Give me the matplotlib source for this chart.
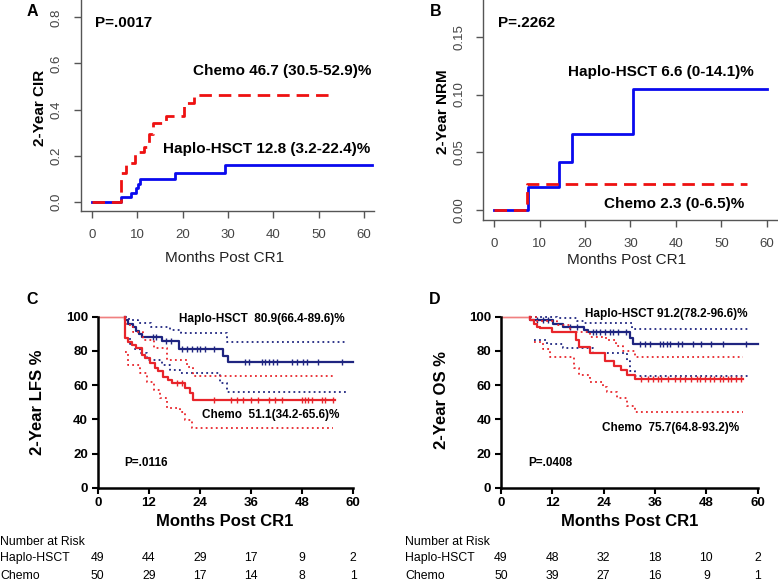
import numpy as np
import matplotlib
matplotlib.use("Agg")
import matplotlib.pyplot as plt
from matplotlib.transforms import blended_transform_factory

plt.rcParams["font.family"] = ["Liberation Sans", "DejaVu Sans"]

W, H = 778, 581

# === DATOS ===
# A: incidencia acumulada de recaida (CIR)
cir_haplo_t = [0, 6.3, 8.7, 9.7, 10.1, 10.6, 18.4, 29.3]
cir_haplo_v = [0, 0.020, 0.040, 0.059, 0.078, 0.099, 0.127, 0.161]
cir_haplo_end = 61.7
cir_chemo_t = [0, 6.5, 7.5, 9.5, 11.5, 12.5, 13.5, 16.3, 20.3, 22.4]
cir_chemo_v = [0, 0.124, 0.167, 0.217, 0.239, 0.296, 0.342, 0.371, 0.429, 0.463]
cir_chemo_end = 53.6

# B: mortalidad sin recaida (NRM)
nrm_haplo_t = [0, 7.5, 14.3, 17.2, 30.5]
nrm_haplo_v = [0, 0.020, 0.042, 0.066, 0.105]
nrm_haplo_end = 60
nrm_chemo_t = [0, 7.1]
nrm_chemo_v = [0, 0.023]
nrm_chemo_end = 55.7

# C: LFS
lfs_haplo_t = [0, 6.3, 7.0, 8.2, 9.0, 9.8, 10.5, 15.0, 19.0, 29.5, 30.6]
lfs_haplo_v = [100, 97.9, 95.9, 93.8, 91.7, 89.6, 88.0, 86.0, 81.0, 77.0, 73.5]
lfs_haplo_end = 60
lfs_haplo_cens = [13.0, 13.8, 16.1, 17.3, 19.7, 20.9, 22.1, 23.2, 24.0, 25.2, 27.2,
                  34.6, 35.4, 38.5, 39.3, 40.1, 41.2, 42.0, 45.5, 46.7, 48.3, 49.1, 51.8, 57.3]
lfs_haplo_up_t = [6.3, 7.3, 9.5, 12.5, 17.0, 19.5, 30.4]
lfs_haplo_up_v = [100, 98.1, 96.1, 94.2, 92.0, 90.3, 85.0]
lfs_haplo_lo_t = [6.3, 7.5, 8.5, 9.9, 11.5, 15.0, 17.0, 19.3, 28.7, 30.3]
lfs_haplo_lo_v = [87.5, 84.0, 81.0, 78.6, 74.7, 72.0, 69.0, 66.9, 61.0, 55.8]
lfs_haplo_ci_end = 58.5

lfs_chemo_t = [0, 6.4, 7.2, 8.0, 9.1, 10.3, 11.1, 12.3, 13.5, 14.2, 15.4, 16.6, 17.4, 20.5, 21.7, 22.3]
lfs_chemo_v = [100, 87.3, 85.4, 83.5, 81.5, 77.6, 75.7, 72.8, 70.0, 68.0, 65.0, 63.1, 61.2, 58.2, 55.3, 51.4]
lfs_chemo_end = 55.7
lfs_chemo_cens = [18.5, 19.7, 27.2, 31.4, 32.6, 34.2, 36.1, 37.7, 40.1, 41.6, 43.2,
                  47.9, 48.7, 49.4, 50.2, 52.6, 53.4, 55.3]
lfs_chemo_up_t = [6.3, 6.8, 8.4, 10.7, 13.1, 16.2, 20.9, 22.4]
lfs_chemo_up_v = [96.0, 95.1, 91.2, 86.4, 81.5, 74.7, 70.8, 65.6]
lfs_chemo_lo_t = [6.4, 7.2, 9.9, 11.5, 13.1, 14.6, 16.2, 19.3, 20.5, 22.1]
lfs_chemo_lo_v = [79.5, 71.7, 66.9, 62.0, 57.1, 52.2, 46.4, 44.4, 39.6, 34.7]
lfs_chemo_ci_end = 55.3

# D: OS
os_haplo_t = [0, 6.8, 12.2, 14.6, 19.3, 20.4, 30.2, 30.9]
os_haplo_v = [100, 98.0, 96.0, 93.9, 92.0, 91.2, 87.5, 83.8]
os_haplo_end = 60
os_haplo_cens = [8.3, 9.9, 11.1, 16.1, 17.7, 21.5, 22.3, 23.1, 24.2, 25.4, 26.2, 27.4, 29.3,
                 32.4, 33.6, 34.8, 37.1, 37.9, 38.7, 39.4, 41.4, 42.2, 44.9, 46.8, 49.2, 51.9, 57.3]
os_haplo_up_t = [6.8, 13.0, 17.7, 19.3, 30.6]
os_haplo_up_v = [100, 99.0, 97.5, 96.5, 92.6]
os_haplo_lo_t = [7.6, 10.7, 14.6, 21.6, 29.4, 30.2, 31.3]
os_haplo_lo_v = [86.4, 84.0, 81.5, 78.6, 74.0, 68.0, 65.3]
os_haplo_ci_end = 57.8

os_chemo_t = [0, 6.8, 7.8, 8.4, 9.0, 12.0, 17.5, 18.2, 20.7, 24.4, 26.3, 28.0, 29.4, 31.3]
os_chemo_v = [100, 98.0, 96.0, 94.2, 93.2, 91.3, 86.4, 82.5, 78.6, 74.0, 71.0, 69.0, 66.0, 63.5]
os_chemo_end = 56.6
os_chemo_cens = [32.8, 34.4, 35.5, 36.7, 37.5, 39.0, 40.6, 41.8, 42.9, 44.5, 45.7, 46.4,
                 47.6, 48.8, 49.9, 51.1, 51.9, 53.1, 53.8, 55.0, 56.2]
os_chemo_up_t = [6.8, 8.3, 13.0, 16.2, 20.9, 24.5, 26.8, 28.4, 31.3]
os_chemo_up_v = [100, 97.2, 95.0, 91.2, 88.0, 86.5, 83.0, 80.0, 76.6]
os_chemo_lo_t = [7.6, 9.9, 11.5, 17.0, 18.2, 20.8, 23.9, 24.7, 27.1, 29.4, 31.3]
os_chemo_lo_v = [85.0, 81.0, 76.6, 70.2, 66.0, 62.0, 59.0, 56.0, 52.2, 48.0, 44.4]
os_chemo_ci_end = 56.6

# Numero en riesgo
risk_times = [0, 12, 24, 36, 48, 60]
lfs_risk_haplo = [49, 44, 29, 17, 9, 2]
lfs_risk_chemo = [50, 29, 17, 14, 8, 1]
os_risk_haplo = [49, 48, 32, 18, 10, 2]
os_risk_chemo = [50, 39, 27, 16, 9, 1]

# colores
BLUE_R, RED_R = "#0a0aee", "#ee1111"
NAVY, RED = "#1f2580", "#e8252b"
GRAY = "#555555"


def box(l, t, r, b):
    return [l / W, 1 - b / H, (r - l) / W, (b - t) / H]


def ftext(x, y, s, **kw):
    fig.text(x / W, 1 - y / H, s, **kw)


def steps(ax, t, v, end, **kw):
    ax.step(list(t) + [end], list(v) + [v[-1]], where="post", **kw)


def level(t, v, times):
    idx = np.searchsorted(t, times, side="right") - 1
    return np.asarray(v)[idx]


def r_style(ax, yticks, fmt):
    for s in ["top", "right"]:
        ax.spines[s].set_visible(False)
    for s in ["left", "bottom"]:
        ax.spines[s].set_color(GRAY)
        ax.spines[s].set_linewidth(1.0)
    ax.set_xticks([0, 10, 20, 30, 40, 50, 60])
    ax.set_yticks(yticks)
    ax.set_yticklabels([fmt.format(y) for y in yticks], rotation=90, va="center")
    ax.tick_params(colors=GRAY, labelcolor="#444444", labelsize=9.5, length=5, width=1, pad=8)


def km_style(ax):
    for s in ["top", "right"]:
        ax.spines[s].set_visible(False)
    for s in ["left", "bottom"]:
        ax.spines[s].set_linewidth(1.8)
    ax.set_xlim(0, 60)
    ax.set_ylim(0, 100)
    ax.set_xticks(risk_times)
    ax.set_yticks([0, 20, 40, 60, 80, 100])
    ax.tick_params(length=4, width=1.5, labelsize=9.5, pad=3)
    for lab in ax.get_xticklabels() + ax.get_yticklabels():
        lab.set_fontweight("bold")


def km_panel(ax, t, v, end, cens, up_t, up_v, lo_t, lo_v, ci_end, color):
    # tramo inicial fino a 100%
    ax.plot([0, t[1]], [100, 100], color="#f08080", lw=1.0, clip_on=False)
    tt = [t[1]] + t[1:]
    vv = [v[0]] + v[1:]
    steps(ax, tt, vv, end, color=color, lw=1.6, clip_on=False)
    ax.plot(cens, level(t, v, cens), ls="none", marker="|", ms=4, mew=1.0, color=color)
    steps(ax, up_t, up_v, ci_end, color=color, lw=1.3, ls=(0, (1, 1.8)), clip_on=False)
    steps(ax, lo_t, lo_v, ci_end, color=color, lw=1.3, ls=(0, (1, 1.8)))


fig = plt.figure(figsize=(W / 100, H / 100), dpi=100)

# === A ===
axA = fig.add_axes(box(81, 0, 374, 210.7))
steps(axA, cir_haplo_t, cir_haplo_v, cir_haplo_end, color=BLUE_R, lw=2)
steps(axA, cir_chemo_t, cir_chemo_v, cir_chemo_end, color=RED_R, lw=2, dashes=(4.5, 2.5))
axA.set_xlim(-2.43, 62.2)
axA.set_ylim(-0.0377, 0.875)
r_style(axA, [0, 0.2, 0.4, 0.6, 0.8], "{:.1f}")

# === B ===
axB = fig.add_axes(box(483.3, 0, 776.7, 220))
steps(axB, nrm_haplo_t, nrm_haplo_v, nrm_haplo_end, color=BLUE_R, lw=2)
steps(axB, nrm_chemo_t, nrm_chemo_v, nrm_chemo_end, color=RED_R, lw=2, dashes=(4.5, 2.5))
axB.set_xlim(-2.42, 62.2)
axB.set_ylim(-0.0084, 0.1817)
r_style(axB, [0, 0.05, 0.10, 0.15], "{:.2f}")

# === C ===
axC = fig.add_axes(box(97.7, 316.7, 353.3, 487.7))
km_style(axC)
km_panel(axC, lfs_haplo_t, lfs_haplo_v, lfs_haplo_end, lfs_haplo_cens,
         lfs_haplo_up_t, lfs_haplo_up_v, lfs_haplo_lo_t, lfs_haplo_lo_v, lfs_haplo_ci_end, NAVY)
km_panel(axC, lfs_chemo_t, lfs_chemo_v, lfs_chemo_end, lfs_chemo_cens,
         lfs_chemo_up_t, lfs_chemo_up_v, lfs_chemo_lo_t, lfs_chemo_lo_v, lfs_chemo_ci_end, RED)

# === D ===
axD = fig.add_axes(box(501, 316.7, 757.7, 487.7))
km_style(axD)
km_panel(axD, os_haplo_t, os_haplo_v, os_haplo_end, os_haplo_cens,
         os_haplo_up_t, os_haplo_up_v, os_haplo_lo_t, os_haplo_lo_v, os_haplo_ci_end, NAVY)
km_panel(axD, os_chemo_t, os_chemo_v, os_chemo_end, os_chemo_cens,
         os_chemo_up_t, os_chemo_up_v, os_chemo_lo_t, os_chemo_lo_v, os_chemo_ci_end, RED)

# === TEXTOS ===
for x, y, s in [(32, 11, "A"), (436, 11, "B"), (32, 299, "C"), (435, 299, "D")]:
    ftext(x, y, s, fontsize=11.5, fontweight="bold", ha="center", va="center")

ftext(95, 23, "P=.0017", fontsize=11, fontweight="bold", va="center")
ftext(192.7, 71, "Chemo 46.7 (30.5-52.9)%", fontsize=11, fontweight="bold", va="center")
ftext(162.7, 149.5, "Haplo-HSCT 12.8 (3.2-22.4)%", fontsize=11, fontweight="bold", va="center")
ftext(40, 108, "2-Year CIR", fontsize=11, fontweight="bold", rotation=90, ha="center", va="center")
ftext(225, 258, "Months Post CR1", fontsize=11, ha="center", va="center", color="#222222")

ftext(498, 23, "P=.2262", fontsize=11, fontweight="bold", va="center")
ftext(568, 71.7, "Haplo-HSCT 6.6 (0-14.1)%", fontsize=11, fontweight="bold", va="center")
ftext(604, 204, "Chemo 2.3 (0-6.5)%", fontsize=11, fontweight="bold", va="center")
ftext(443, 112, "2-Year NRM", fontsize=11, fontweight="bold", rotation=90, ha="center", va="center")
ftext(627, 260, "Months Post CR1", fontsize=11, ha="center", va="center", color="#222222")

ftext(179, 319, "Haplo-HSCT  80.9(66.4-89.6)%", fontsize=8.5, fontweight="bold", va="center")
ftext(202.3, 415, "Chemo  51.1(34.2-65.6)%", fontsize=8.5, fontweight="bold", va="center")
ftext(124.3, 463, "P=.0116", fontsize=8.5, fontweight="bold", va="center")
ftext(37.5, 402, "2-Year LFS %", fontsize=12, fontweight="bold", rotation=90, ha="center", va="center")
ftext(225, 522, "Months Post CR1", fontsize=12, fontweight="bold", ha="center", va="center")

ftext(585, 314, "Haplo-HSCT 91.2(78.2-96.6)%", fontsize=8.5, fontweight="bold", va="center")
ftext(602, 428, "Chemo  75.7(64.8-93.2)%", fontsize=8.5, fontweight="bold", va="center")
ftext(528, 463, "P=.0408", fontsize=8.5, fontweight="bold", va="center")
ftext(441.7, 400, "2-Year OS %", fontsize=12, fontweight="bold", rotation=90, ha="center", va="center")
ftext(629.7, 522, "Months Post CR1", fontsize=12, fontweight="bold", ha="center", va="center")

# tablas de numero en riesgo
for ax, x0, rh, rc in [(axC, 0, lfs_risk_haplo, lfs_risk_chemo), (axD, 405, os_risk_haplo, os_risk_chemo)]:
    ftext(x0, 542, "Number at Risk", fontsize=8.8, va="center")
    ftext(x0, 558.3, "Haplo-HSCT", fontsize=8.8, va="center")
    ftext(x0, 575.7, "Chemo", fontsize=8.8, va="center")
    tr = blended_transform_factory(ax.transData, fig.transFigure)
    for t, a, b in zip(risk_times, rh, rc):
        ax.text(t, 1 - 558.3 / H, str(a), transform=tr, fontsize=8.8, ha="center", va="center")
        ax.text(t, 1 - 575.7 / H, str(b), transform=tr, fontsize=8.8, ha="center", va="center")

fig.savefig("out.png", dpi=100)
